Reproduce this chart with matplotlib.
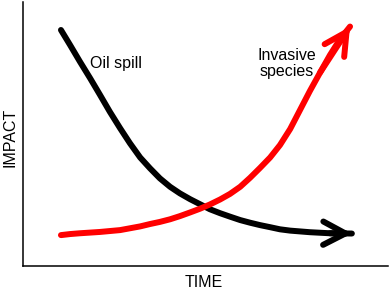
import matplotlib
matplotlib.use("Agg")
import matplotlib.pyplot as plt

# Oil spill curve (time, impact) in 0-100 units
oil_time = [10.4, 12.9, 15.6, 18.4, 21.1, 23.8, 26.6, 29.3, 32.1, 34.8, 37.5, 40.3, 43.0, 45.8,
            48.5, 51.2, 54.0, 56.7, 59.5, 62.2, 64.9, 67.7, 70.4, 73.2, 78.6, 84.1, 90.1]
oil_impact = [89.4, 83.7, 77.4, 71.1, 64.8, 58.4, 52.2, 46.5, 41.1, 37.0, 33.2, 30.0, 27.5, 25.3,
              23.4, 21.5, 20.0, 18.7, 17.4, 16.4, 15.5, 14.7, 13.9, 13.4, 12.8, 12.4, 12.3]

# Invasive species curve
inv_time = [10.4, 12.9, 15.6, 21.1, 26.6, 32.1, 34.8, 37.5, 40.3, 43.0, 45.8, 48.5, 51.2, 54.0,
            56.7, 59.5, 62.2, 64.9, 67.7, 70.4, 73.2, 75.9, 78.6, 81.4, 84.1, 86.8, 89.6]
inv_impact = [11.7, 12.1, 12.4, 12.9, 13.6, 15.0, 15.9, 16.7, 17.7, 18.9, 20.3, 21.7, 23.3, 25.2,
              27.3, 30.0, 33.4, 37.1, 41.1, 45.8, 51.9, 59.1, 66.3, 73.3, 79.9, 85.8, 90.7]

labels = {"oil": "Oil spill", "inv": "Invasive\nspecies", "x": "TIME", "y": "IMPACT"}

plt.rcParams['font.family'] = ['Liberation Sans', 'DejaVu Sans']

W, H = 391, 289
fig = plt.figure(figsize=(W / 100, H / 100), dpi=100)
ax = fig.add_axes([23 / W, 1 - 266 / H, (388 - 23) / W, (266 - 2) / H])
ax.set_xlim(0, 100)
ax.set_ylim(0, 100)
for s in ["top", "right"]:
    ax.spines[s].set_visible(False)
for s in ["left", "bottom"]:
    ax.spines[s].set_linewidth(1.1)
ax.set_xticks([])
ax.set_yticks([])

lw = 4.3
for xs, ys, col, back in [(oil_time, oil_impact, "black", 2), (inv_time, inv_impact, "#ff0000", 4)]:
    ax.plot(xs, ys, color=col, lw=lw, solid_capstyle="round", solid_joinstyle="round")
    ax.annotate("", xy=(xs[-1], ys[-1]), xytext=(xs[-back], ys[-back]),
                arrowprops=dict(arrowstyle="->,head_length=0.8,head_width=0.42",
                                color=col, lw=lw, shrinkA=0, shrinkB=0, alpha=1,
                                mutation_scale=20, capstyle="round", joinstyle="round"))

fs = 11.5
fig.text(90 / W, 1 - 68 / H, labels["oil"], fontsize=fs, ha="left", va="baseline")
fig.text(287 / W, 1 - 48 / H, labels["inv"], fontsize=fs, ha="center", va="top", linespacing=1.1)
fig.text(204 / W, 1 - 287 / H, labels["x"], fontsize=fs, ha="center", va="baseline")
fig.text(10 / W, 1 - 137 / H, labels["y"], fontsize=fs, ha="center", va="center", rotation=90)

fig.savefig("out.png", dpi=100)
